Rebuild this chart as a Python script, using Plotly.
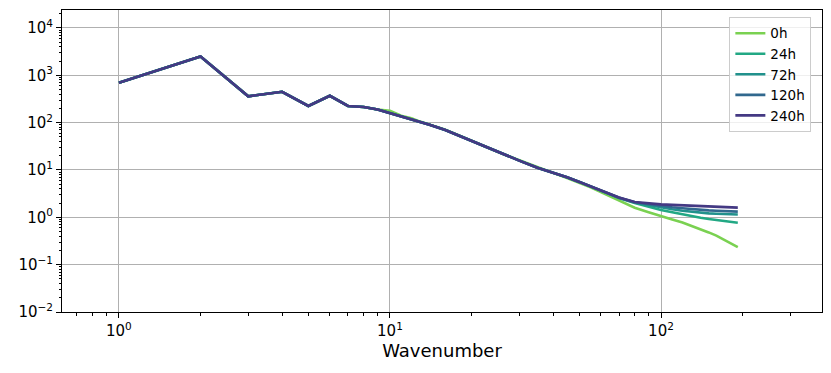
import plotly.graph_objects as go

# wavenumbers (sampled) and spectrum per time
wavenumber = [1, 2, 3, 4, 5, 6, 7, 8, 9, 10, 11, 12, 13, 14, 16, 18, 20, 23, 26, 30,
              35, 40, 45, 50, 55, 60, 70, 80, 90, 100, 110, 120, 130, 140, 150, 160,
              170, 180, 192]

base = [700, 2500, 360, 450, 225, 370, 225, 215, 190, 160, 135, 118, 102, 90, 70, 53, 41,
        29, 22, 15.8, 11.2, 8.8, 7.0, 5.6, 4.5, 3.6]

spec_0h = base[:9] + [178, 140, 124, 104, 91, 71, 54, 41, 29.5, 22, 16, 11.3, 8.7, 6.8,
                      5.4, 4.3, 3.4, 2.3, 1.6, 1.28, 1.05, 0.9, 0.78, 0.66, 0.56, 0.48,
                      0.41, 0.34, 0.28, 0.235]
spec_24h = base + [2.55, 2.0, 1.65, 1.43, 1.28, 1.15, 1.05, 0.98, 0.92, 0.87, 0.83, 0.8, 0.77]
spec_72h = base + [2.6, 2.05, 1.8, 1.6, 1.48, 1.38, 1.3, 1.25, 1.21, 1.19, 1.17, 1.16, 1.15]
spec_120h = base + [2.6, 2.08, 1.88, 1.73, 1.63, 1.55, 1.48, 1.43, 1.4, 1.38, 1.36, 1.34, 1.32]
spec_240h = base + [2.62, 2.1, 1.95, 1.88, 1.83, 1.79, 1.76, 1.73, 1.71, 1.69, 1.66, 1.63, 1.6]

labels = ["0h", "24h", "72h", "120h", "240h"]
series = [spec_0h, spec_24h, spec_72h, spec_120h, spec_240h]
colors = ["#7ad151", "#22a884", "#21918c", "#31688e", "#443983"]

fig = go.Figure()
for lab, vals, col in zip(labels, series, colors):
    fig.add_trace(go.Scatter(x=wavenumber, y=vals, mode="lines", name=lab,
                             line=dict(color=col, width=2.6)))

axis_common = dict(
    type="log", showline=True, mirror=True, linecolor="black", linewidth=1,
    showgrid=True, gridcolor="#b0b0b0", gridwidth=1, zeroline=False,
    ticks="outside", ticklen=5, tickcolor="black", automargin=False,
    tickfont=dict(family="DejaVu Sans", size=15, color="black"),
    minor=dict(ticks="outside", ticklen=2.5, tickcolor="black", dtick="D1", showgrid=False),
)

fig.update_xaxes(range=[-0.21, 2.594], tickvals=[1, 10, 100],
                 ticktext=["10<sup>0</sup>", "10<sup>1</sup>", "10<sup>2</sup>"],
                 title=dict(text="Wavenumber", font=dict(family="DejaVu Sans", size=18, color="black"),
                            standoff=4),
                 **axis_common)
fig.update_yaxes(range=[-2, 4.38], tickvals=[0.01, 0.1, 1, 10, 100, 1000, 10000],
                 ticktext=["10<sup>−2</sup>", "10<sup>−1</sup>", "10<sup>0</sup>", "10<sup>1</sup>",
                           "10<sup>2</sup>", "10<sup>3</sup>", "10<sup>4</sup>"],
                 **axis_common)

# page body has an 8px margin, so the figure is sized/offset to fit the window
fig.update_layout(
    width=823, height=365,
    margin=dict(l=54, r=9, t=2, b=61),
    plot_bgcolor="white", paper_bgcolor="white",
    font=dict(family="DejaVu Sans", color="black"),
    legend=dict(x=0.986, y=0.977, xanchor="right", yanchor="top",
                bgcolor="rgba(255,255,255,0.8)", bordercolor="#cccccc", borderwidth=1,
                font=dict(family="DejaVu Sans", size=13.5, color="black"),
                tracegroupgap=0, itemwidth=30),
)

fig.write_html("out.html")
